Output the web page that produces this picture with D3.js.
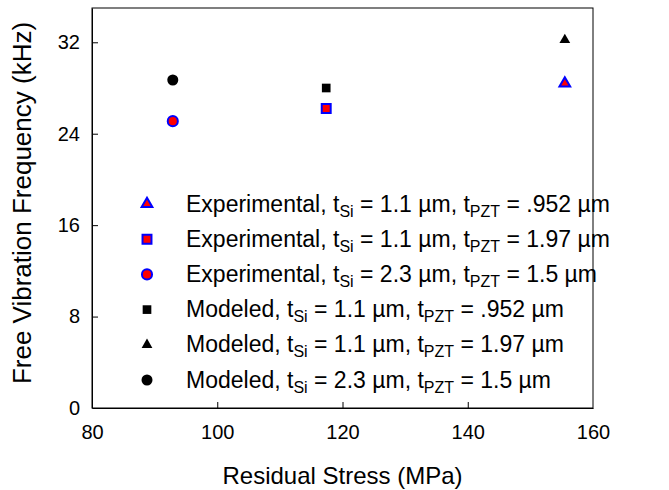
<!DOCTYPE html>
<html>
<head>
<meta charset="utf-8">
<script src="https://cdn.jsdelivr.net/npm/d3@7"></script>
<style>
  body { margin: 0; background: #fff; }
  text { font-family: Arial, "Liberation Sans", sans-serif; }
</style>
</head>
<body>
<div id="chart"></div>
<script>
// data
var stress = [155.5, 117.4, 92.9, 117.4, 155.5, 92.9];
var freq = [28.4, 26.2, 25.1, 28.0, 32.2, 28.7];
var kinds = ["Experimental", "Experimental", "Experimental", "Modeled", "Modeled", "Modeled"];
var shapes = ["triangle", "square", "circle", "square", "triangle", "circle"];
var tSi = ["1.1", "1.1", "2.3", "1.1", "1.1", "2.3"];
var tPZT = [".952", "1.97", "1.5", ".952", "1.97", "1.5"];
var xTicks = [80, 100, 120, 140, 160];
var yTicks = [0, 8, 16, 24, 32];

// set the dimensions and margins of the graph
var margin = {top: 8, right: 76, bottom: 82, left: 92},
    width = 669 - margin.left - margin.right,
    height = 490 - margin.top - margin.bottom;

var svg = d3.select("#chart")
  .append("svg")
    .attr("width", 669)
    .attr("height", 490)
  .append("g")
    .attr("transform", "translate(" + margin.left + "," + margin.top + ")");

var x = d3.scaleLinear().domain([80, 160]).range([0, width]);
var y = d3.scaleLinear().domain([0, 35]).range([height, 0]);

// X axis, ticks pointing inward
var xAxis = svg.append("g")
  .attr("transform", "translate(0," + height + ")")
  .call(d3.axisBottom(x).tickValues(xTicks).tickSizeInner(-6).tickSizeOuter(0).tickPadding(17));
// Y axis
var yAxis = svg.append("g")
  .call(d3.axisLeft(y).tickValues(yTicks).tickSizeInner(-6).tickSizeOuter(0).tickPadding(12));

[xAxis, yAxis].forEach(function (a) {
  a.selectAll("text").style("font-size", "20px").attr("fill", "#000");
  a.selectAll("line").attr("stroke", "#000");
  a.select(".domain").attr("stroke", "#000");
});
xAxis.selectAll(".tick line").filter(function (d) { return d === 80 || d === 160; }).remove();
yAxis.selectAll(".tick line").filter(function (d) { return d === 0; }).remove();

// frame
svg.append("rect")
  .attr("width", width).attr("height", height)
  .attr("fill", "none").attr("stroke", "#000").attr("stroke-width", 1);

// axis titles
svg.append("text")
  .attr("x", width / 2).attr("y", height + 76)
  .attr("text-anchor", "middle")
  .style("font-size", "24px")
  .text("Residual Stress (MPa)");
svg.append("text")
  .attr("transform", "translate(" + (-61) + "," + 195 + ") rotate(-90)")
  .attr("text-anchor", "middle")
  .style("font-size", "26px")
  .text("Free Vibration Frequency (kHz)");

function symbolFor(s, size) {
  var t = s === "triangle" ? d3.symbolTriangle : s === "square" ? d3.symbolSquare : d3.symbolCircle;
  return d3.symbol().type(t).size(size)();
}
function styleMark(sel, i) {
  if (kinds[i] === "Experimental") {
    sel.attr("fill", "#ff0000").attr("stroke", "#0000ff").attr("stroke-width", 2);
  } else {
    sel.attr("fill", "#000").attr("stroke", "none");
  }
}
function markSize(i) {
  var exp = kinds[i] === "Experimental";
  if (shapes[i] === "triangle") return 50;
  if (shapes[i] === "square") return exp ? 80 : 75;
  return exp ? 80 : 95;
}

// points
stress.forEach(function (d, i) {
  svg.append("path")
    .attr("d", symbolFor(shapes[i], markSize(i)))
    .attr("transform", "translate(" + x(d) + "," + y(freq[i]) + ")")
    .call(styleMark, i);
});

// legend
var leg = svg.append("g").attr("transform", "translate(55,196)");
kinds.forEach(function (k, i) {
  var row = leg.append("g").attr("transform", "translate(0," + (i * 35.2) + ")");
  row.append("path")
    .attr("d", symbolFor(shapes[i], markSize(i)))
    .call(styleMark, i);
  var t = row.append("text").attr("x", 39).attr("y", 7.5).style("font-size", "23px");
  t.append("tspan").text(k + ", t");
  t.append("tspan").attr("dy", 5).style("font-size", "16px").text("Si");
  t.append("tspan").attr("dy", -5).text(" = " + tSi[i] + " \u00b5m, t");
  t.append("tspan").attr("dy", 5).style("font-size", "16px").text("PZT");
  t.append("tspan").attr("dy", -5).text(" = " + tPZT[i] + " \u00b5m");
});
</script>
</body>
</html>
